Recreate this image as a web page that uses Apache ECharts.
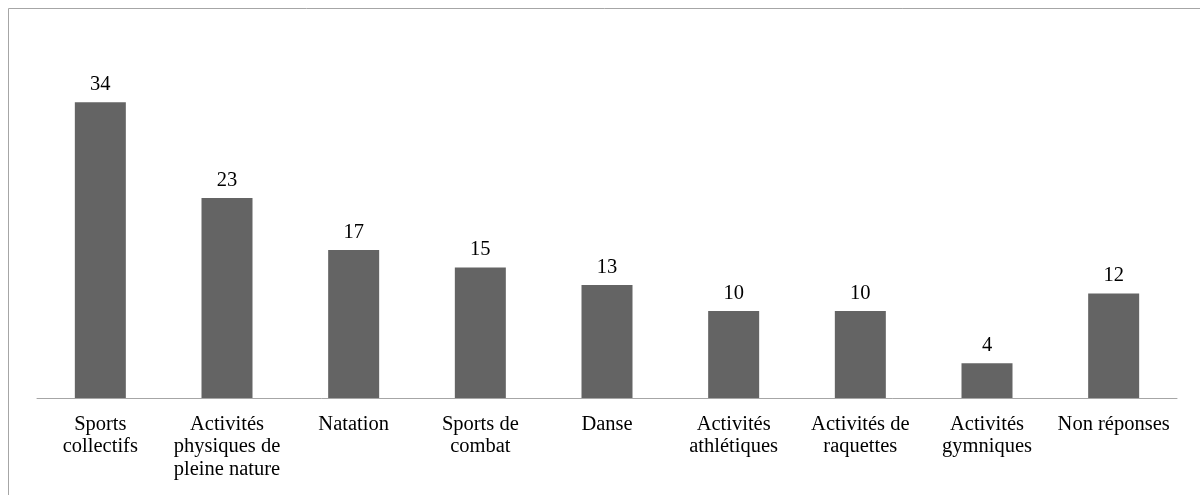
<!DOCTYPE html>
<html>
<head>
<meta charset="utf-8">
<script src="https://cdn.jsdelivr.net/npm/echarts@6/dist/echarts.min.js"></script>
<style>
  html, body { margin: 0; padding: 0; background: #fff; }
  #chart { width: 1200px; height: 495px; }
</style>
</head>
<body>
<div id="chart"></div>
<script>
var categories = [
  "Sports\ncollectifs",
  "Activités\nphysiques de\npleine nature",
  "Natation",
  "Sports de\ncombat",
  "Danse",
  "Activités\nathlétiques",
  "Activités de\nraquettes",
  "Activités\ngymniques",
  "Non réponses"
];
var values = [34, 23, 17, 15, 13, 10, 10, 4, 12];

var chart = echarts.init(document.getElementById("chart"));

var option = {
  animation: false,
  textStyle: { fontFamily: "Liberation Serif" },
  graphic: [
    {
      // frame of the chart area (top and left edges visible)
      type: "rect",
      shape: { x: 8.5, y: 8.5, width: 1200, height: 500 },
      style: { fill: "none", stroke: "#a6a6a6", lineWidth: 1 }
    }
  ],
  grid: {
    left: 37,
    right: 23,
    top: 50,
    bottom: 97
  },
  xAxis: {
    type: "category",
    data: categories,
    axisLine: { lineStyle: { color: "#a6a6a6", width: 1 } },
    axisTick: { show: false },
    axisLabel: {
      interval: 0,
      margin: 15,
      color: "#000",
      fontSize: 20.5,
      lineHeight: 22.5,
      fontFamily: "Liberation Serif"
    }
  },
  yAxis: {
    type: "value",
    min: 0,
    max: 40,
    show: false,
    splitLine: { show: false }
  },
  series: [
    {
      type: "bar",
      data: values,
      barWidth: 51,
      itemStyle: { color: "#646464" },
      label: {
        show: true,
        position: "top",
        distance: 7,
        color: "#000",
        fontSize: 20.5,
        fontFamily: "Liberation Serif"
      }
    }
  ]
};

chart.setOption(option);
</script>
</body>
</html>
